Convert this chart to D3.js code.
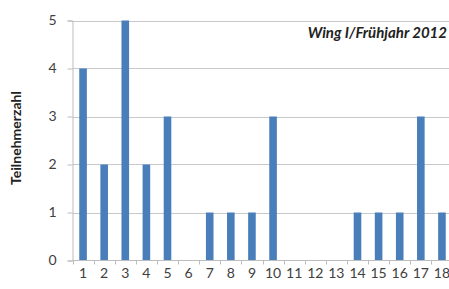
<!DOCTYPE html>
<html><head><meta charset="utf-8">
<script src="https://cdn.jsdelivr.net/npm/d3@7"></script>
<style>html,body{margin:0;padding:0;background:#fff;overflow:hidden}</style>
</head><body>
<svg id="c" width="449" height="289"></svg>
<script>
const categories = ["1","2","3","4","5","6","7","8","9","10","11","12","13","14","15","16","17","18"];
const values = [4,2,5,2,3,0,1,1,1,3,0,0,0,1,1,1,3,1];
const yTicks = [0,1,2,3,4,5];
const title = "Wing I/Frühjahr 2012";
const yLabel = "Teilnehmerzahl";

const svg = d3.select("#c");
const mLeft = 72.5, mRight = 452.5, mTop = 20.5, mBottom = 260.5;
const font = "Lato, 'Open Sans', sans-serif";

const x = d3.scaleBand().domain(categories).range([mLeft, mRight]).paddingInner(0.64).paddingOuter(0.32);
const y = d3.scaleLinear().domain([0,5]).range([mBottom, mTop]);

// gridlines
svg.append("g").selectAll("line").data(yTicks.filter(d=>d>0)).join("line")
  .attr("x1", mLeft).attr("x2", 449).attr("y1", d=>Math.round(y(d))+0.5).attr("y2", d=>Math.round(y(d))+0.5)
  .attr("stroke", "#c8c8c8").attr("stroke-width", 1);

// bars
svg.append("g").selectAll("rect").data(values).join("rect")
  .attr("x", (d,i)=>x(categories[i]))
  .attr("width", x.bandwidth())
  .attr("y", d=>y(d))
  .attr("height", d=>y(0)-y(d))
  .attr("fill", "#4a7ebb");

// y axis
const ya = d3.axisLeft(y).tickValues(yTicks).tickSize(5).tickPadding(11).tickFormat(d3.format("d"));
const gy = svg.append("g").attr("transform", `translate(${mLeft},0)`).call(ya);
gy.select(".domain").attr("stroke", "#bdbdbd");
gy.selectAll(".tick line").attr("stroke", "#bdbdbd");
gy.selectAll(".tick text").attr("font-family", font).attr("font-size", 14).attr("fill", "#404040");

// x axis
const xb = d3.scaleLinear().domain([0, categories.length]).range([mLeft, mRight]);
const gx = svg.append("g").attr("transform", `translate(0,${mBottom})`);
gx.append("line").attr("x1", mLeft).attr("x2", 449).attr("stroke", "#bdbdbd");
gx.selectAll("line.t").data(d3.range(categories.length+1)).join("line").attr("class","t")
  .attr("x1", d=>Math.round(xb(d))+0.5).attr("x2", d=>Math.round(xb(d))+0.5).attr("y1",0).attr("y2",4)
  .attr("stroke", "#bdbdbd");
gx.selectAll("text").data(categories).join("text")
  .attr("x", d=>x(d)+x.bandwidth()/2).attr("y", 17.5)
  .attr("text-anchor", "middle").attr("font-family", font).attr("font-size", 14).attr("fill", "#404040")
  .text(d=>d);

// title
svg.append("text").attr("x", 447).attr("y", 38).attr("text-anchor", "end")
  .attr("font-family", font).attr("font-size", 15).attr("font-weight", "bold").attr("font-style", "italic")
  .attr("fill", "#222").text(title);

// y label
svg.append("text").attr("transform", "translate(21,138) rotate(-90)").attr("text-anchor", "middle")
  .attr("font-family", font).attr("font-size", 14).attr("font-weight", "bold").attr("fill", "#222")
  .text(yLabel);
</script>
</body></html>
